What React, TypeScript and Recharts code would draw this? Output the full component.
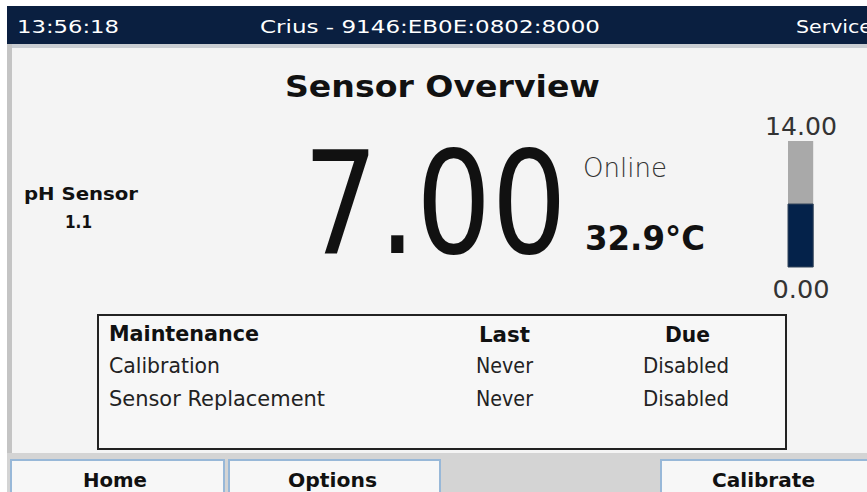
import React from "react";
import { BarChart, Bar, XAxis, YAxis } from "recharts";

// ---- data ----
const headerTime = "13:56:18";
const headerDevice = "Crius - 9146:EB0E:0802:8000";
const headerMode = "Service";
const screenTitle = "Sensor Overview";
const sensorName = "pH Sensor";
const sensorId = "1.1";
const statusText = "Online";
const temperatureText = "32.9°C";

const gaugeCategories = ["pH"];
const phValues = [7.0];
const gaugeTicks = [0, 14];
const gaugeDomain: [number, number] = [0, 14];

const tableHeaders = ["Maintenance", "Last", "Due"];
const taskNames = ["Calibration", "Sensor Replacement"];
const taskLast = ["Never", "Never"];
const taskDue = ["Disabled", "Disabled"];

const buttonLabels = ["Home", "Options", "Calibrate"];

const gaugeData = gaugeCategories.map((c, i) => ({ cat: c, ph: phValues[i] }));

const FONT = "'DejaVu Sans', Verdana, sans-serif";
const NAVY = "#0a1f40";
const GAUGE_NAVY = "#04224a";

const GaugeTick = (props: any) => {
  const { y, payload } = props;
  const v = payload.value as number;
  const top = v === gaugeDomain[1];
  return (
    <text
      x={51}
      y={top ? y - 6 : y + 31}
      textAnchor="middle"
      fontFamily={FONT}
      fontSize={25}
      fill="#333"
      textLength={v >= 10 ? 72 : 57}
      lengthAdjust="spacingAndGlyphs"
    >
      {v.toFixed(2)}
    </text>
  );
};

const T = (p: any) => {
  const { children, ...rest } = p;
  return (
    <text fontFamily={FONT} lengthAdjust="spacingAndGlyphs" {...rest}>
      {children}
    </text>
  );
};

export default function App() {
  const rowBaselines = [373, 406];
  const buttons = [
    { x: 11, w: 213, tx: 83, tl: 64 },
    { x: 229, w: 211, tx: 288, tl: 89 },
    { x: 661, w: 210, tx: 712, tl: 103 },
  ];
  return (
    <div style={{ position: "absolute", left: 0, top: 0, width: 867, height: 492, background: "#fff", overflow: "hidden" }}>
      <svg width={867} height={492} style={{ position: "absolute", left: 0, top: 0 }}>
        {/* header */}
        <rect x={7} y={6} width={860} height={38} fill={NAVY} />
        <T x={17} y={33} fontSize={18} fill="#fff" textLength={102}>{headerTime}</T>
        <T x={260} y={33} fontSize={18} fill="#fff" textLength={340}>{headerDevice}</T>
        <T x={796} y={33} fontSize={18} fill="#fff" textLength={76}>{headerMode}</T>
        {/* panel */}
        <rect x={7} y={44} width={860} height={4} fill="#c9cdd2" />
        <rect x={7} y={44} width={5} height={409} fill="#c4c4c4" />
        <rect x={12} y={48} width={855} height={405} fill="#f4f4f4" />
        {/* title */}
        <T x={285} y={97} fontSize={30} fontWeight="bold" fill="#111" textLength={315}>{screenTitle}</T>
        {/* sensor */}
        <T x={24} y={200} fontSize={18} fontWeight="bold" fill="#111" textLength={114}>{sensorName}</T>
        <T x={65} y={228} fontSize={18} fontWeight="bold" fill="#111" textLength={27}>{sensorId}</T>
        {/* reading */}
        <g transform="translate(303,253) scale(0.835,1)">
          <text x={0} y={0} fontFamily={FONT} fontSize={142} fill="#111">{phValues[0].toFixed(2)}</text>
        </g>
        <T x={583} y={177} fontSize={27} fill="#333" fontWeight={300} textLength={84}>{statusText}</T>
        <T x={585} y={250} fontSize={34} fontWeight="bold" fill="#111" textLength={120}>{temperatureText}</T>
        {/* table */}
        <rect x={98} y={315} width={688} height={134} fill="#f7f7f7" stroke="#222" strokeWidth={2} />
        <T x={109} y={341} fontSize={21} fontWeight="bold" fill="#111" textLength={150}>{tableHeaders[0]}</T>
        <T x={479} y={342} fontSize={21} fontWeight="bold" fill="#111" textLength={51}>{tableHeaders[1]}</T>
        <T x={665} y={342} fontSize={21} fontWeight="bold" fill="#111" textLength={45}>{tableHeaders[2]}</T>
        {taskNames.map((n, i) => (
          <g key={n}>
            <T x={109} y={rowBaselines[i]} fontSize={21} fill="#222" textLength={i === 0 ? 111 : 216}>{n}</T>
            <T x={476} y={rowBaselines[i]} fontSize={21} fill="#222" textLength={57}>{taskLast[i]}</T>
            <T x={643} y={rowBaselines[i]} fontSize={21} fill="#222" textLength={86}>{taskDue[i]}</T>
          </g>
        ))}
        {/* bottom bar */}
        <rect x={7} y={453} width={860} height={39} fill="#d4d4d4" />
        {buttons.map((b, i) => (
          <g key={i}>
            <rect x={b.x} y={460} width={b.w} height={40} fill="#f7f7f7" stroke="#98b8d8" strokeWidth={2} />
            <T x={b.tx} y={487} fontSize={20} fontWeight="bold" fill="#111" textLength={b.tl}>{buttonLabels[i]}</T>
          </g>
        ))}
      </svg>
      <div style={{ position: "absolute", left: 750, top: 100, width: 100, height: 210 }}>
        <BarChart width={100} height={210} data={gaugeData} margin={{ top: 41, right: 35, bottom: 43, left: 0 }}>
          <XAxis dataKey="cat" hide />
          <YAxis
            domain={gaugeDomain}
            ticks={gaugeTicks}
            width={37}
            axisLine={false}
            tickLine={false}
            tick={(p: any) => <GaugeTick {...p} />}
            interval={0}
          />
          <Bar
            dataKey="ph"
            fill={GAUGE_NAVY}
            stroke="#33445a"
            strokeWidth={1}
            barSize={28}
            background={{ fill: "#a9a9a9" }}
            isAnimationActive={false}
          />
        </BarChart>
      </div>
    </div>
  );
}
